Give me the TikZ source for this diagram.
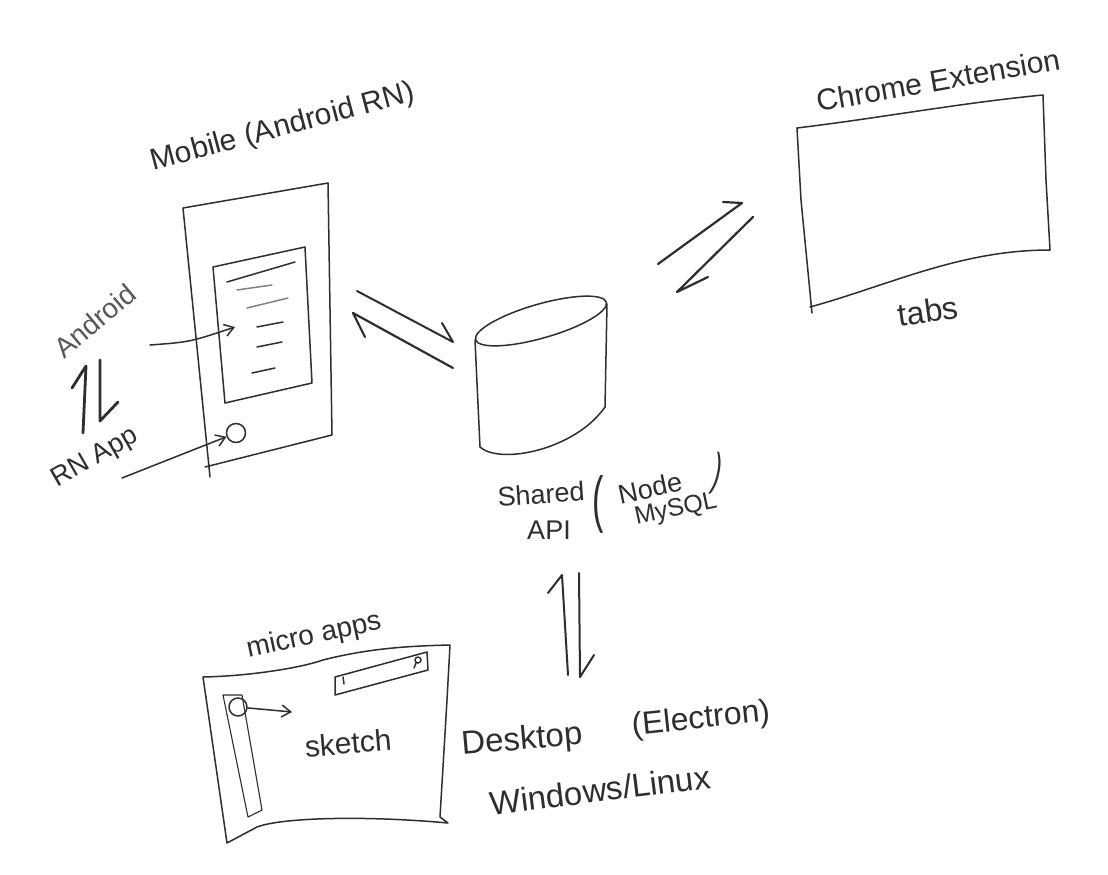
\documentclass[tikz,border=0pt]{standalone}
\usepackage{fontspec}
\setmainfont{Liberation Sans}
\usetikzlibrary{arrows.meta}
\definecolor{ink}{HTML}{2E2E2E}
\begin{document}
\begin{tikzpicture}[x=1pt,y=-1pt,
  sk/.style={draw=ink,line width=1.5pt,line cap=round,line join=round},
  bold/.style={draw=ink,line width=2.8pt,line cap=round,line join=round},
  barrow/.style={sk,-{Straight Barb[length=9pt,width=12pt]}},
  hand/.style={text=ink,inner sep=0pt},
  fs/.style={font=\fontsize{#1}{#1}\selectfont}]
\useasboundingbox (0,0) rectangle (1108,875);
\fill[white] (0,0) rectangle (1108,875);

% ---------- Mobile phone ----------
\coordinate (ph1) at (183,208);
\coordinate (ph2) at (328,183);
\coordinate (ph3) at (332,435);
\coordinate (ph4) at (205,467);
\draw[sk] (210,477) -- (ph1) -- (ph2) -- (ph3) -- (ph4);
\draw[sk] (213,267) -- (305,247) -- (312,383) -- (225,403) -- cycle;
\draw[sk] (227,282) -- (295,262);
\draw[sk,draw=ink!60] (237,290) -- (272,285);
\draw[sk,draw=ink!60] (247,308) -- (288,298);
\draw[sk] (257,327) -- (283,322);
\draw[sk] (257,347) -- (282,342);
\draw[sk] (252,373) -- (275,368);
\node[sk,circle,minimum size=19pt,inner sep=0pt] (button) at (236,433) {};
\node[hand,rotate=15,fs=30] (mobilelbl) at (283,128) {Mobile (Android RN)};

% Android / RN App
\node[hand,rotate=40,fs=28,text=ink!80] (android) at (95,321) {Android};
\node[hand,rotate=30,fs=27] (rnapp) at (95,458) {RN App};
\coordinate (screenin) at (235,327);
\draw[barrow] (150,345) .. controls (190,342) .. (screenin);
\draw[barrow] (122,478) -- (button);
\coordinate (au1) at (83,433); \coordinate (au2) at (86,366); \coordinate (au3) at (72,388);
\coordinate (ad1) at (100,360); \coordinate (ad2) at (100,421); \coordinate (ad3) at (118,402);
\draw[bold] (au1) -- (au2) -- (au3);
\draw[bold] (ad1) -- (ad2) -- (ad3);

% ---------- Shared API cylinder ----------
\coordinate (api) at (541,375);
\draw[sk,rotate around={16:(541,321)}] (541,321) ellipse [x radius=68, y radius=17];
\draw[sk] (475,340) -- (480,447);
\draw[sk] (607,304) -- (605,407);
\draw[sk] (480,447) .. controls (500,465) and (575,450) .. (605,407);
\node[hand,rotate=4,fs=27] (shared) at (541,494) {Shared};
\node[hand,fs=27] (apilbl) at (549,530) {API};
\node[hand,xscale=0.55,fs=62] (lpar) at (598,504) {(};
\node[hand,rotate=12,fs=27] (nodelbl) at (650,488) {Node};
\node[hand,rotate=12,fs=25] (mysql) at (676,510) {MySQL};
\node[hand,rotate=-12,xscale=0.55,fs=46] (rpar) at (717,474) {)};

% phone <-> api
\coordinate (pa1) at (357,291); \coordinate (pa2) at (453,342); \coordinate (pa3) at (442,323);
\coordinate (pb1) at (453,368); \coordinate (pb2) at (353,313); \coordinate (pb3) at (365,337);
\draw[sk,line width=2pt] (pa1) -- (pa2) -- (pa3);
\draw[sk,line width=2.2pt] (pb1) -- (pb2) -- (pb3);

% ---------- Chrome extension ----------
\coordinate (ch1) at (797,128);
\coordinate (ch2) at (1043,95);
\coordinate (ch3) at (1050,250);
\coordinate (ch4) at (810,307);
\draw[sk] (ch1) .. controls (880,118) and (960,103) .. (ch2) -- (1046,180) -- (ch3)
  .. controls (960,250) and (890,285) .. (ch4);
\draw[sk] (ch1) -- (801,200) -- (812,313);
\node[hand,rotate=10,fs=30] (chromelbl) at (938,80) {Chrome Extension};
\node[hand,rotate=8,fs=32] (tabs) at (928,311) {tabs};

% api <-> chrome
\coordinate (ca1) at (658,264); \coordinate (ca2) at (742,203); \coordinate (ca3) at (723,202);
\coordinate (cb1) at (753,217); \coordinate (cb2) at (677,292); \coordinate (cb3) at (708,277);
\draw[sk,line width=2.2pt] (ca1) -- (ca2) -- (ca3);
\draw[sk,line width=2.2pt] (cb1) -- (cb2) -- (cb3);

% ---------- Desktop ----------
\coordinate (da1) at (568,675); \coordinate (da2) at (562,575); \coordinate (da3) at (548,593);
\coordinate (db1) at (579,573); \coordinate (db2) at (580,677); \coordinate (db3) at (594,655);
\draw[sk,line width=2pt] (da1) -- (da2) -- (da3);
\draw[sk,line width=2pt] (db1) -- (db2) -- (db3);
\node[hand,rotate=5,fs=33] (desktop) at (522,741) {Desktop};
\node[hand,rotate=6,fs=32] (electron) at (701,720) {(Electron)};
\node[hand,rotate=7,fs=33] (winlinux) at (600,790) {Windows/Linux};

% ---------- micro apps ----------
\draw[sk] (203,677) .. controls (250,676) and (300,668) .. (323,660)
  .. controls (370,648) and (410,646) .. (450,645)
  -- (447,700) -- (440,817) -- (448,823)
  .. controls (360,815) and (280,818) .. (257,827) -- (227,843) -- cycle;
\draw[sk,line width=1.1pt] (223,695) -- (242,695) -- (262,810) -- (248,817) -- cycle;
\node[sk,circle,minimum size=18pt,inner sep=0pt] (knob) at (238,707) {};
\coordinate (knobto) at (292,712);
\draw[barrow] (knob) -- (knobto);
\draw[sk] (335,677) -- (427,652) -- (428,670) -- (335,695) -- cycle;
\draw[sk] (343,677) -- (344,684);
\draw[sk] (418,660) circle [radius=3] (416,663) -- (414,668);
\node[hand,rotate=12,fs=28] (micro) at (314,636) {micro apps};
\node[hand,rotate=5,fs=30] (sketch) at (348,743) {sketch};
\end{tikzpicture}
\end{document}
